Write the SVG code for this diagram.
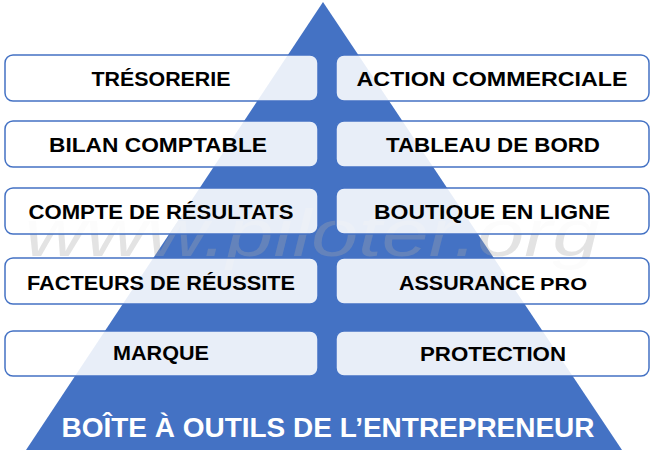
<svg xmlns="http://www.w3.org/2000/svg" width="652" height="450" viewBox="0 0 652 450">
<style>
.box{fill:#ffffff;fill-opacity:0.88;stroke:#4472c4;stroke-width:1.5}
.t{font-family:"Liberation Sans",Arial,sans-serif;font-weight:bold;font-size:21px;fill:#000;text-anchor:middle}
.wm{font-family:"Liberation Sans",Arial,sans-serif;font-style:italic;font-size:66px;fill:#a8a8a8;fill-opacity:0.32}
</style>
<rect width="652" height="450" fill="#ffffff"/>
<g id="pyramid"><polygon points="323,2 26,450 622,450" fill="#4472c4"/></g>
<text class="wm" x="312" y="256" text-anchor="middle" textLength="575" lengthAdjust="spacingAndGlyphs">www.piloter.org</text>
<g id="connectors"></g>
<g id="n1"><rect class="box" x="5" y="55" width="313" height="46" rx="8"/><text class="t" x="161" y="86" textLength="139" lengthAdjust="spacingAndGlyphs">TRÉSORERIE</text></g>
<g id="n2"><rect class="box" x="336" y="55" width="313" height="46" rx="8"/><text class="t" x="492" y="86" textLength="271" lengthAdjust="spacingAndGlyphs">ACTION COMMERCIALE</text></g>
<g id="n3"><rect class="box" x="5" y="121" width="313" height="46" rx="8"/><text class="t" x="158" y="152" textLength="218" lengthAdjust="spacingAndGlyphs">BILAN COMPTABLE</text></g>
<g id="n4"><rect class="box" x="336" y="121" width="313" height="46" rx="8"/><text class="t" x="493" y="152" textLength="214" lengthAdjust="spacingAndGlyphs">TABLEAU DE BORD</text></g>
<g id="n5"><rect class="box" x="5" y="188" width="313" height="46" rx="8"/><text class="t" x="161" y="219" textLength="265" lengthAdjust="spacingAndGlyphs">COMPTE DE RÉSULTATS</text></g>
<g id="n6"><rect class="box" x="336" y="188" width="313" height="46" rx="8"/><text class="t" x="492" y="219" textLength="236" lengthAdjust="spacingAndGlyphs">BOUTIQUE EN LIGNE</text></g>
<g id="n7"><rect class="box" x="5" y="258" width="313" height="46" rx="8"/><text class="t" x="161" y="290" textLength="268" lengthAdjust="spacingAndGlyphs">FACTEURS DE RÉUSSITE</text></g>
<g id="n8"><rect class="box" x="336" y="258" width="313" height="46" rx="8"/><text class="t" x="493" y="290" text-anchor="middle"><tspan textLength="136" lengthAdjust="spacingAndGlyphs">ASSURANCE</tspan><tspan font-size="17" dx="5" textLength="47" lengthAdjust="spacingAndGlyphs">PRO</tspan></text></g>
<g id="n9"><rect class="box" x="5" y="331" width="313" height="45" rx="8"/><text class="t" x="161" y="360" font-size="18" textLength="96" lengthAdjust="spacingAndGlyphs">MARQUE</text></g>
<g id="n10"><rect class="box" x="336" y="331" width="313" height="45" rx="8"/><text class="t" x="493" y="361" textLength="146" lengthAdjust="spacingAndGlyphs">PROTECTION</text></g>
<g id="title"><text x="328" y="437" font-family="'Liberation Sans',Arial,sans-serif" font-weight="bold" font-size="27" fill="#ffffff" text-anchor="middle" textLength="533" lengthAdjust="spacingAndGlyphs">BOÎTE À OUTILS DE L’ENTREPRENEUR</text></g>
</svg>
